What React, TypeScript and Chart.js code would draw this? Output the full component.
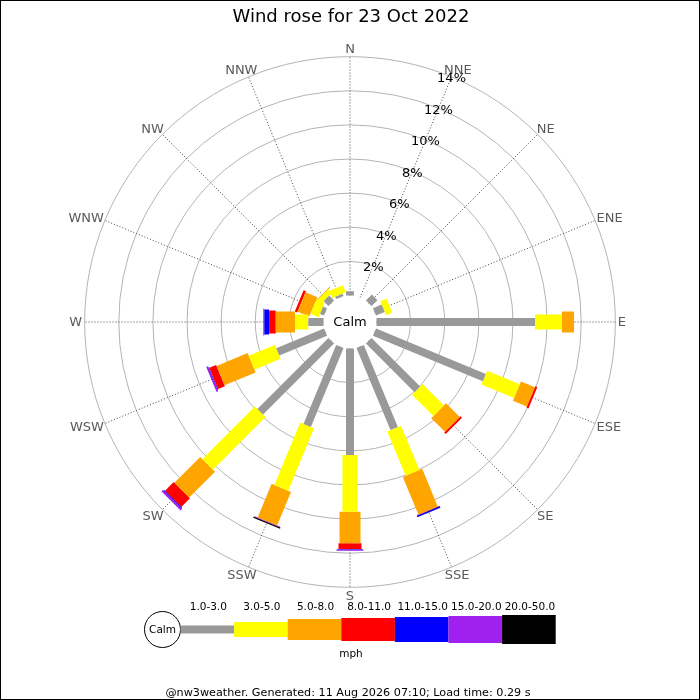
import { useEffect, useRef } from "react"
import { Chart, registerables } from "chart.js"

Chart.register(...registerables)

const title = "Wind rose for 23 Oct 2022"
const footer = "@nw3weather. Generated: 11 Aug 2026 07:10; Load time: 0.29 s"

const directions = ["N", "NNE", "NE", "ENE", "E", "ESE", "SE", "SSE", "S", "SSW", "SW", "WSW", "W", "WNW", "NW", "NNW"]
const speedBins = ["1.0-3.0", "3.0-5.0", "5.0-8.0", "8.0-11.0", "11.0-15.0", "15.0-20.0", "20.0-50.0"]
const binColors = ["#999999", "#ffff00", "#ffa500", "#ff0000", "#0000ff", "#a020f0", "#000000"]
const binWidths = [8, 15, 21, 23, 25, 27, 29]

// % of time, per direction (N .. NNW), one array per speed bin
const bin1to3 = [0.25, 0, 0.49, 0.55, 9.29, 6.97, 4.03, 5.21, 6.24, 5.01, 5.89, 3.03, 0.89, 0.25, 0.4, 0.15]
const bin3to5 = [0, 0, 0, 0.4, 1.57, 2.07, 1.77, 2.81, 3.33, 3.96, 4.36, 1.66, 0.78, 0.52, 0.3, 0.45]
const bin5to8 = [0, 0, 0, 0, 0.72, 0.88, 1.13, 2.38, 1.85, 2.13, 2.14, 1.97, 1.13, 0.75, 0.05, 0]
const bin8to11 = [0, 0, 0, 0, 0, 0.13, 0.13, 0.03, 0.33, 0, 0.71, 0.44, 0.39, 0.15, 0, 0]
const bin11to15 = [0, 0, 0, 0, 0, 0, 0, 0.1, 0.03, 0, 0.06, 0.04, 0.28, 0, 0, 0]
const bin15to20 = [0, 0, 0, 0, 0, 0, 0, 0, 0.07, 0.04, 0.12, 0.1, 0.06, 0, 0, 0]
const bin20to50 = [0, 0, 0, 0, 0, 0, 0, 0, 0, 0.08, 0, 0, 0, 0, 0, 0]
const binValues = [bin1to3, bin3to5, bin5to8, bin8to11, bin11to15, bin15to20, bin20to50]

const gridPercents = [2, 4, 6, 8, 10, 12, 14]
const calmOffset = 1.553 // radius of the calm circle, in % units
const axisHalf = 17.585

const FONT = "DejaVu Sans"

const dirAngle = (i: number) => (i * 22.5 * Math.PI) / 180

const roseDecor = {
  id: "roseDecor",
  beforeDatasetsDraw(chart: any) {
    const { ctx } = chart
    const xs = chart.scales.x
    const ys = chart.scales.y
    const cx = xs.getPixelForValue(0)
    const cy = ys.getPixelForValue(0)
    const px = (v: number) => xs.getPixelForValue(v) - cx
    const maxPct = gridPercents[gridPercents.length - 1]
    ctx.save()

    ctx.strokeStyle = "#b4b4b4"
    ctx.lineWidth = 1
    gridPercents.forEach((p) => {
      ctx.beginPath()
      ctx.arc(cx, cy, px(calmOffset + p), 0, Math.PI * 2)
      ctx.stroke()
    })

    ctx.setLineDash([1, 2])
    ctx.strokeStyle = "#444444"
    directions.forEach((_, i) => {
      const a = dirAngle(i)
      const r1 = px(calmOffset)
      const r2 = px(calmOffset + maxPct)
      ctx.beginPath()
      ctx.moveTo(cx + r1 * Math.sin(a), cy - r1 * Math.cos(a))
      ctx.lineTo(cx + r2 * Math.sin(a), cy - r2 * Math.cos(a))
      ctx.stroke()
    })
    ctx.setLineDash([])

    // compass labels sit just outside the outer ring
    ctx.font = `13px ${FONT}`
    ctx.fillStyle = "#5a5a5a"
    ctx.textAlign = "center"
    ctx.textBaseline = "middle"
    directions.forEach((d, i) => {
      const a = dirAngle(i)
      const r = px(calmOffset + maxPct) + 2.5
      const w = ctx.measureText(d).width
      const lx = cx + r * Math.sin(a) + (Math.sin(a) * w) / 2
      const ly = cy - r * Math.cos(a) - Math.cos(a) * 5.5
      ctx.fillText(d, lx, ly + 1)
    })

    ctx.fillStyle = "#000000"
    const la = dirAngle(1)
    gridPercents.forEach((p) => {
      const r = px(calmOffset + p)
      ctx.fillText(`${p}%`, cx + r * Math.sin(la), cy - r * Math.cos(la) + 2)
    })
    ctx.restore()
  },
  afterDatasetsDraw(chart: any) {
    const { ctx } = chart
    const xs = chart.scales.x
    const ys = chart.scales.y
    const cx = xs.getPixelForValue(0)
    const cy = ys.getPixelForValue(0)
    const calmR = xs.getPixelForValue(calmOffset) - cx - 1
    ctx.save()

    ctx.fillStyle = "#ffffff"
    ctx.beginPath()
    ctx.arc(cx, cy, calmR, 0, Math.PI * 2)
    ctx.fill()
    ctx.fillStyle = "#000000"
    ctx.font = `13px ${FONT}`
    ctx.textAlign = "center"
    ctx.textBaseline = "middle"
    ctx.fillText("Calm", cx, cy + 1)

    // title
    ctx.font = `18px ${FONT}`
    ctx.fillText(title, 351, 17)

    // legend
    const lx = 162.5
    const ly = 629.5
    ctx.strokeStyle = "#000000"
    ctx.lineWidth = 1
    ctx.beginPath()
    ctx.arc(lx, ly, 18, 0, Math.PI * 2)
    ctx.stroke()
    ctx.font = `10.5px ${FONT}`
    ctx.fillText("Calm", lx, ly + 1)
    const segLen = 53.6
    speedBins.forEach((label, b) => {
      const x0 = lx + 18 + b * segLen
      ctx.fillStyle = binColors[b]
      ctx.fillRect(x0, ly - binWidths[b] / 2, segLen, binWidths[b])
      ctx.fillStyle = "#000000"
      ctx.fillText(label, x0 + segLen / 2 + 1, 607)
    })
    ctx.fillText("mph", 351, 654)

    ctx.font = `11.2px ${FONT}`
    ctx.fillText(footer, 348, 693)

    ctx.strokeStyle = "#000000"
    ctx.strokeRect(0.5, 0.5, chart.width - 1, chart.height - 1)
    ctx.restore()
  },
}

export default function App() {
  const chartRef = useRef<HTMLCanvasElement | null>(null)
  const chartInstance = useRef<Chart | null>(null)

  useEffect(() => {
    if (!chartRef.current) return
    if (chartInstance.current) chartInstance.current.destroy()
    const ctx = chartRef.current.getContext("2d")
    if (!ctx) return

    // one line dataset per speed bin, each direction a separate thick segment
    const datasets = speedBins.map((label, b) => {
      const points: { x: number; y: number }[] = []
      directions.forEach((_, i) => {
        const v = binValues[b][i]
        if (v <= 0) return
        let start = calmOffset
        for (let k = 0; k < b; k++) start += binValues[k][i]
        const end = start + v
        const a = dirAngle(i)
        points.push({ x: start * Math.sin(a), y: start * Math.cos(a) })
        points.push({ x: end * Math.sin(a), y: end * Math.cos(a) })
        points.push({ x: NaN, y: NaN })
      })
      return {
        label,
        data: points,
        showLine: true,
        borderColor: binColors[b],
        backgroundColor: binColors[b],
        borderWidth: binWidths[b],
        borderCapStyle: "butt" as const,
        // non-empty dash keeps Chart.js off its per-pixel fast path
        borderDash: [10000, 0],
        pointRadius: 0,
        spanGaps: false,
        clip: false as const,
      }
    })

    chartInstance.current = new Chart(ctx, {
      type: "scatter",
      data: { datasets },
      options: {
        responsive: false,
        animation: false,
        events: [],
        layout: { padding: { left: 50, right: 50, top: 22, bottom: 78 } },
        scales: {
          x: { display: false, min: -axisHalf, max: axisHalf },
          y: { display: false, min: -axisHalf, max: axisHalf },
        },
        plugins: {
          legend: { display: false },
          tooltip: { enabled: false },
        },
      },
      plugins: [roseDecor],
    })

    return () => {
      if (chartInstance.current) {
        chartInstance.current.destroy()
        chartInstance.current = null
      }
    }
  }, [])

  return (
    <div style={{ position: "fixed", left: 0, top: 0, width: 700, height: 700, background: "#fff" }}>
      <canvas ref={chartRef} width={700} height={700} />
    </div>
  )
}
